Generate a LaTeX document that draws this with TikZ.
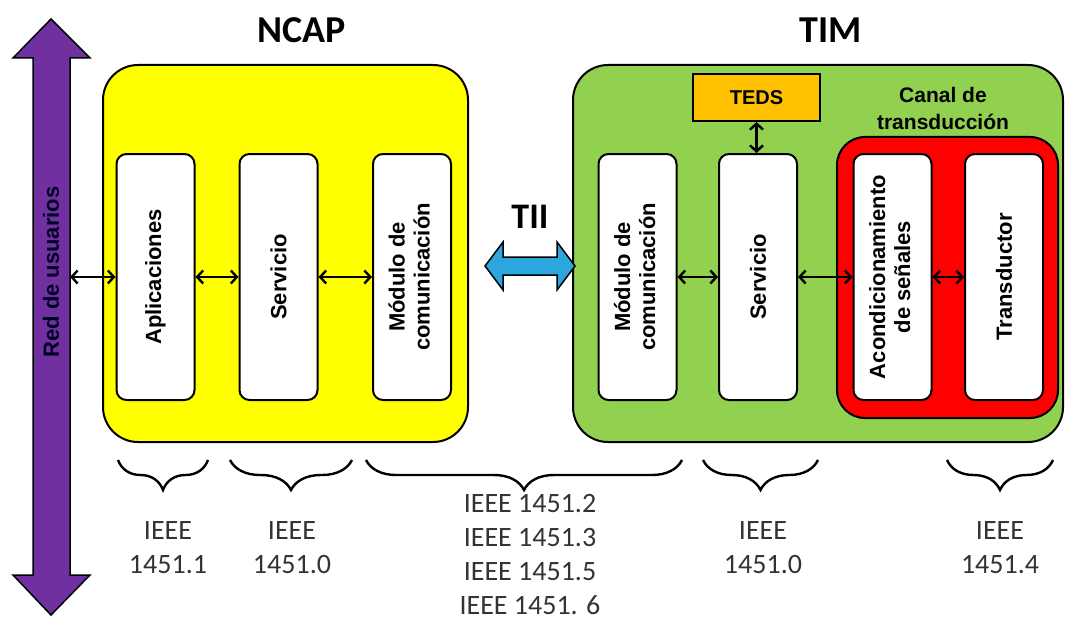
\documentclass[tikz,border=0pt]{standalone}
\usepackage{fontspec}
\setmainfont{Carlito}
\newfontfamily\arialfont{Liberation Sans}
\usetikzlibrary{arrows.meta, decorations.pathreplacing}

\definecolor{ncapyellow}{HTML}{FFFF00}
\definecolor{timgreen}{HTML}{92D050}
\definecolor{canalred}{HTML}{FF0000}
\definecolor{tedsorange}{HTML}{FFC000}
\definecolor{redpurple}{HTML}{7030A0}
\definecolor{tiiblue}{HTML}{2BA6DE}

\begin{document}
\begin{tikzpicture}[x=1pt, y=-1pt,
  module/.style={draw, line width=2pt, rounded corners=35pt, inner sep=0pt},
  block/.style={draw, line width=2pt, fill=white, rounded corners=10pt,
    minimum width=78pt, minimum height=246pt, inner sep=0pt,
    font=\fontsize{22}{25}\selectfont\arialfont\bfseries},
  link/.style={{Straight Barb[length=6pt,width=13pt]}-{Straight Barb[length=6pt,width=13pt]}, line width=2.4pt},
  brace/.style={decorate, decoration={brace, mirror, amplitude=30pt}, line width=2.4pt},
  std/.style={align=center, inner sep=0pt, text=black!80, font=\fontsize{28}{34}\selectfont},
  title/.style={font=\fontsize{38}{40}\selectfont\bfseries}]
\useasboundingbox (0,0) rectangle (1073,623);

% user network
\draw [fill=redpurple, line width=1.5pt] (51,19) -- (90,58) -- (70,58) -- (70,575) -- (90,575)
  -- (51,615) -- (13,575) -- (33,575) -- (33,58) -- (13,58) -- cycle;
\node at (51,272) [rotate=90, text=black!85!blue, font=\fontsize{22}{25}\selectfont\arialfont\bfseries] {Red de usuarios};
\coordinate (usr) at (70,277);

% NCAP
\node at (285.5,253.5) [name=ncap, module, fill=ncapyellow, minimum width=365pt, minimum height=377pt] {};
\node at (302,30) [title] {NCAP};
\node at (155.5,277) [name=apl, block] {\rotatebox{90}{Aplicaciones}};
\node at (278.5,277) [name=srvn, block] {\rotatebox{90}{Servicio}};
\node at (412,277) [name=modn, block] {\rotatebox{90}{\begin{tabular}{@{}c@{}}Módulo de\\comunicación\end{tabular}}};

% TIM
\node at (818,253.5) [name=tim, module, fill=timgreen, minimum width=490pt, minimum height=377pt] {};
\node at (831,30) [title] {TIM};
\node at (947.5,277.5) [name=canal, module, rounded corners=28pt, fill=canalred, minimum width=221pt, minimum height=281pt] {};
\node at (943,108) [align=center, font=\fontsize{21}{27}\selectfont\arialfont\bfseries] {Canal de\\transducción};
\node at (756.5,97.5) [name=teds, draw, line width=2pt, fill=tedsorange, minimum width=127pt, minimum height=47pt,
  font=\fontsize{20}{22}\selectfont\arialfont\bfseries] {TEDS};
\node at (637.5,277) [name=modt, block] {\rotatebox{90}{\begin{tabular}{@{}c@{}}Módulo de\\comunicación\end{tabular}}};
\node at (758,277) [name=srvt, block] {\rotatebox{90}{Servicio}};
\node at (892.5,277) [name=acond, block] {\rotatebox{90}{\begin{tabular}{@{}c@{}}Acondicionamiento\\de señales\end{tabular}}};
\node at (1004,277) [name=trans, block] {\rotatebox{90}{Transductor}};

% TII
\draw [fill=tiiblue, line width=1.5pt] (485,266) -- (503,242) -- (503,257) -- (557,257) -- (557,242)
  -- (575,266) -- (557,290) -- (557,275) -- (503,275) -- (503,290) -- cycle;
\node at (530,217) [font=\fontsize{36}{38}\selectfont\bfseries] {TII};

\draw [link] (usr) -- (apl.west);
\draw [link] (apl.east) -- (srvn.west);
\draw [link] (srvn.east) -- (modn.west);
\draw [link] (modt.east) -- (srvt.west);
\draw [link] (srvt.east) -- (acond.west);
\draw [link] (acond.east) -- (trans.west);
\draw [link] (teds.south) -- (teds.south |- srvt.north);

% standards
\draw [brace] (118,460) -- (208,460);
\draw [brace] (230,460) -- (352,460);
\draw [brace] (366,460) -- (682,460);
\draw [brace] (703,460) -- (818,460);
\draw [brace] (947,460) -- (1053,460);
\node at (168,548) [std] {IEEE\\1451.1};
\node at (292,548) [std] {IEEE\\1451.0};
\node at (530,555) [std] {IEEE 1451.2\\IEEE 1451.3\\IEEE 1451.5\\IEEE 1451. 6};
\node at (763,548) [std] {IEEE\\1451.0};
\node at (1000,548) [std] {IEEE\\1451.4};
\end{tikzpicture}
\end{document}
